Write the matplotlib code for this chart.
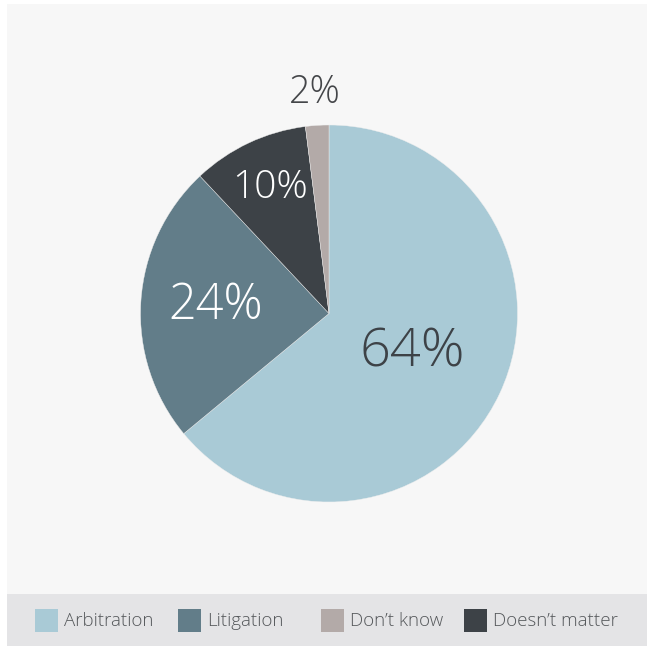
import numpy as np
import matplotlib
matplotlib.use('Agg')
import matplotlib.pyplot as plt
from matplotlib.patches import Rectangle

plt.rcParams['font.family'] = ['Open Sans', 'DejaVu Sans']

# Preferred dispute resolution
categories = ['Arbitration', 'Litigation', 'Doesn\u2019t matter', 'Don\u2019t know']
shares = [64, 24, 10, 2]
colors = ['#a9cad6', '#627d89', '#3d4247', '#b3aaa8']
label_colors = ['#3d4247', '#ffffff', '#ffffff', '#444649']
label_sizes = [39, 35, 28, 27]
label_dist = [0.49, 0.60, 0.74, 1.175]

legend_order = ['Arbitration', 'Litigation', 'Don\u2019t know', 'Doesn\u2019t matter']

W, H = 647, 646
fig = plt.figure(figsize=(W / 100, H / 100), dpi=100)
fig.patch.set_facecolor('white')

# panel background and legend band
fig.add_artist(Rectangle((7 / W, 1 - 594 / H), 640 / W, 590 / H,
                         transform=fig.transFigure, facecolor='#f7f7f7', edgecolor='none', zorder=0))
fig.add_artist(Rectangle((7 / W, 0), 640 / W, 52 / H,
                         transform=fig.transFigure, facecolor='#e4e4e6', edgecolor='none', zorder=0))

# pie axes
cx, cy, r = 329, 313.5, 188.5
ax = fig.add_axes([(cx - r) / W, 1 - (cy + r) / H, 2 * r / W, 2 * r / H])
ax.set_facecolor('none')
wedges, _ = ax.pie(shares, colors=colors, startangle=90, counterclock=False, radius=1,
                   wedgeprops=dict(edgecolor='#eeeeee', linewidth=0.3))
ax.set_xlim(-1, 1)
ax.set_ylim(-1, 1)
ax.set_aspect('equal')
ax.axis('off')

for w, v, c, s, d in zip(wedges, shares, label_colors, label_sizes, label_dist):
    mid = np.deg2rad((w.theta1 + w.theta2) / 2)
    ax.text(d * np.cos(mid), d * np.sin(mid), f'{v}%', ha='center', va='center',
            fontsize=s, color=c, fontweight='light', clip_on=False)

# legend with equal-width columns
lax = fig.add_axes([0, 0, 1, 1])
lax.set_xlim(0, W)
lax.set_ylim(H, 0)
lax.axis('off')
lax.set_facecolor('none')
for i, name in enumerate(legend_order):
    x0 = 35 + i * 143
    col = colors[categories.index(name)]
    lax.add_patch(Rectangle((x0, 609), 23, 23, facecolor=col, edgecolor='none'))
    lax.text(x0 + 29, 620.5, name, ha='left', va='center', fontsize=13.5,
             color='#55585b', fontweight='light')

fig.savefig('out.png', dpi=100, facecolor=fig.get_facecolor())
